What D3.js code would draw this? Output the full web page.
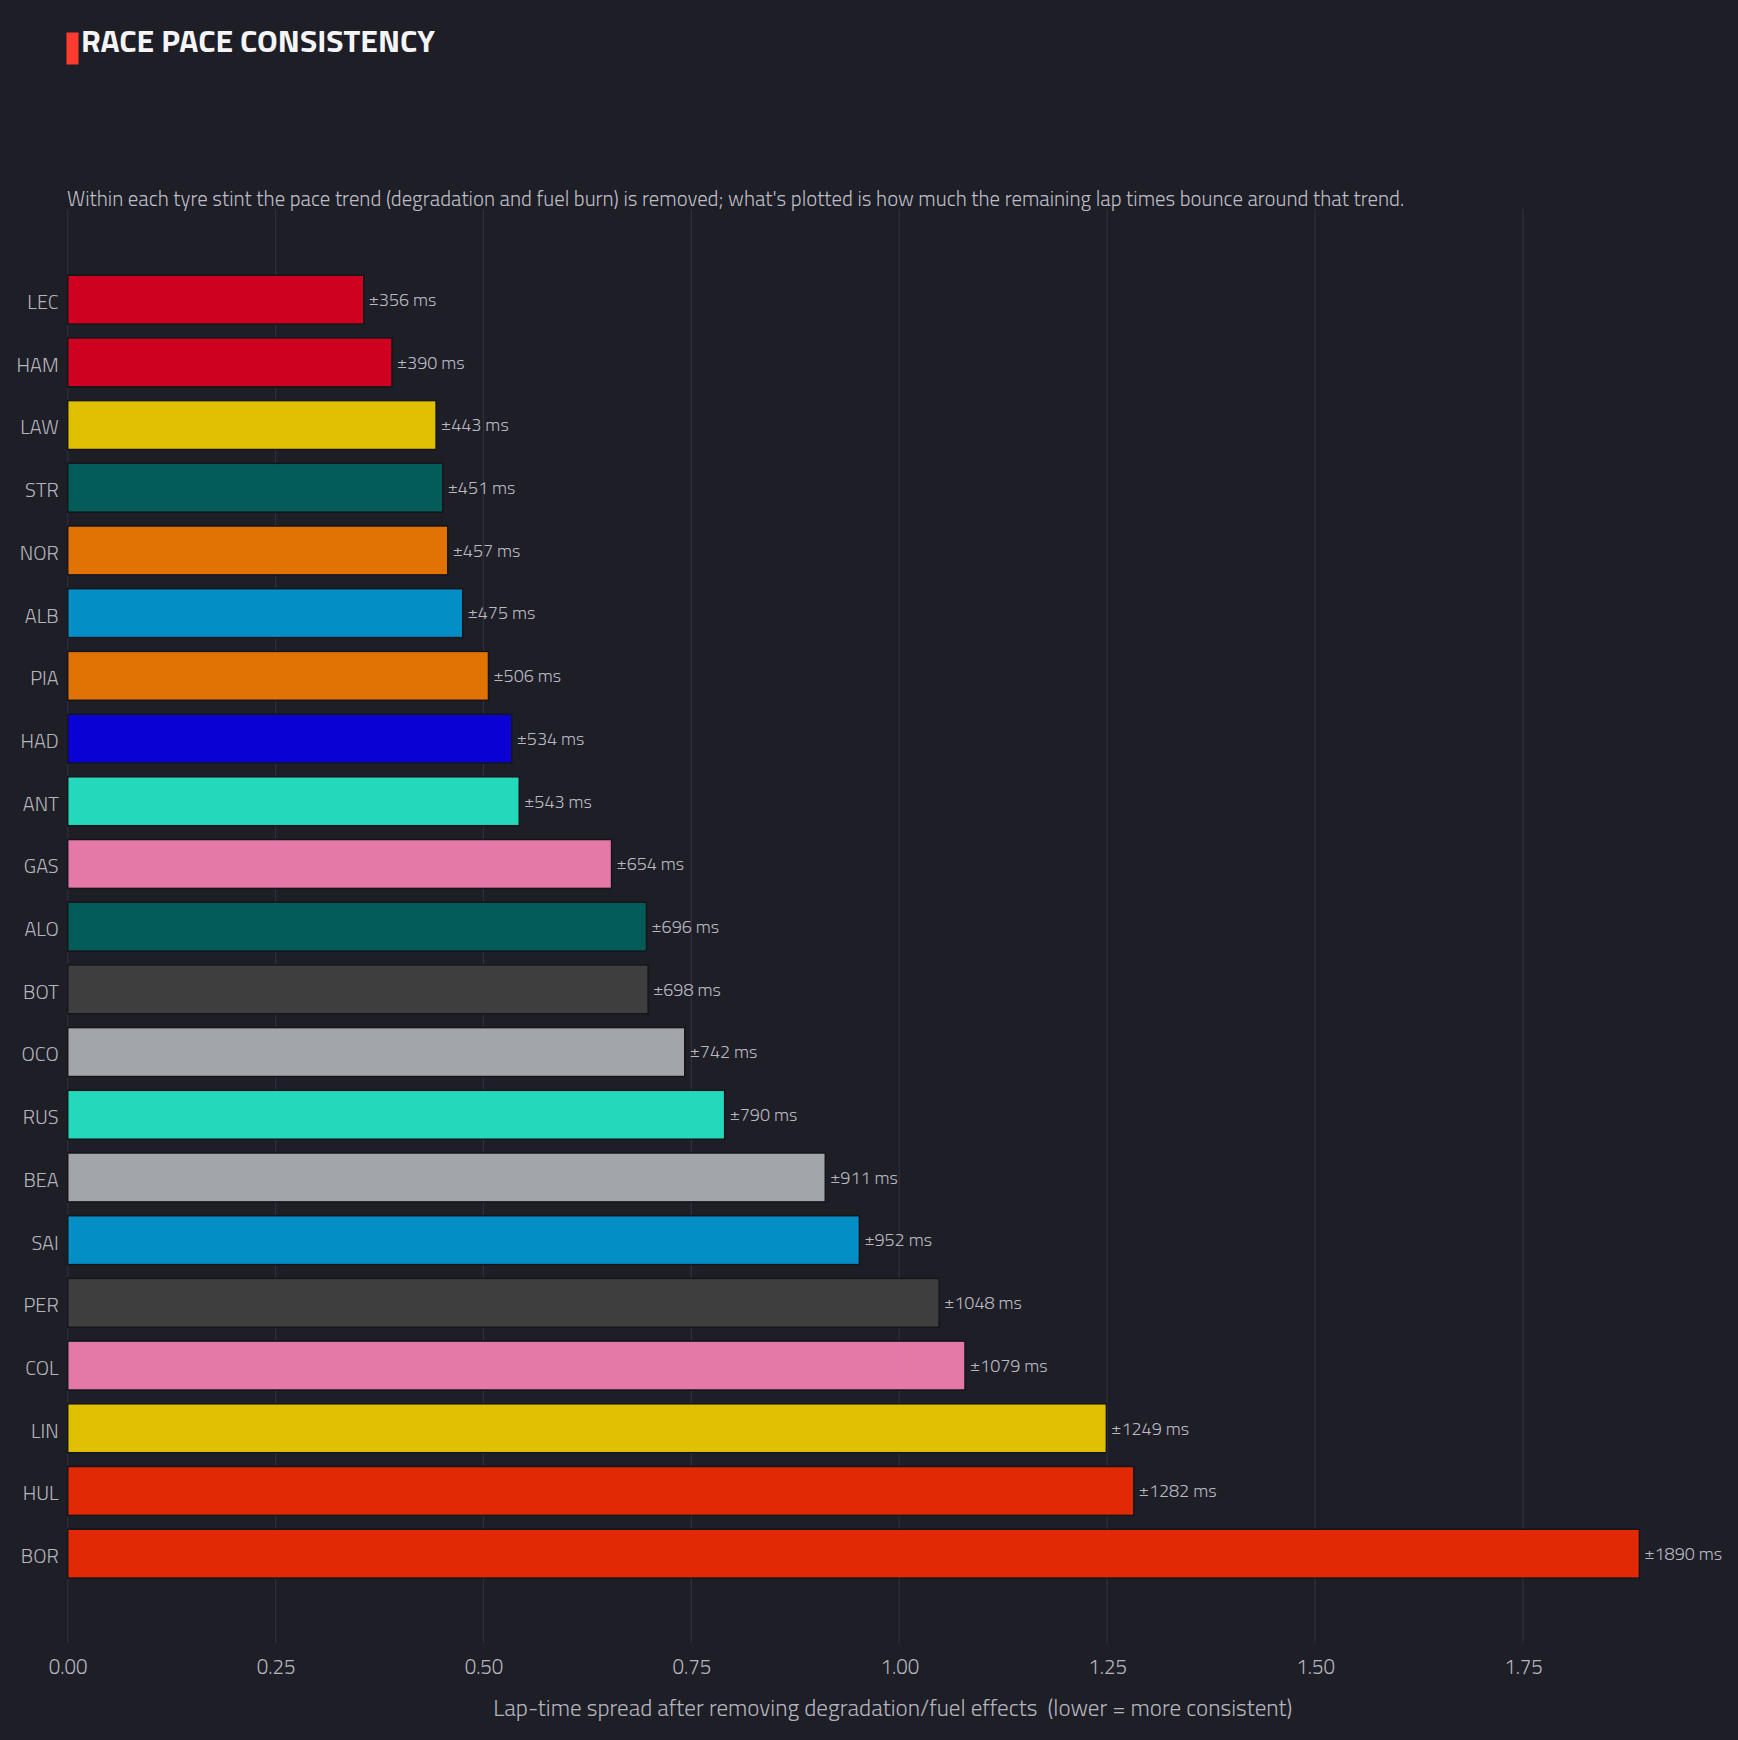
<!DOCTYPE html>
<html>
<head>
<meta charset="utf-8">
<script src="https://cdn.jsdelivr.net/npm/d3@7"></script>
<style>
  html, body { margin: 0; padding: 0; background: #1e1e27; }
  svg { display: block; }
  text { font-family: "Titillium Web", Roboto, "Noto Sans", sans-serif; }
</style>
</head>
<body>
<div id="chart"></div>
<script>
// ---- data ----
const drivers = ["LEC","HAM","LAW","STR","NOR","ALB","PIA","HAD","ANT","GAS","ALO","BOT","OCO","RUS","BEA","SAI","PER","COL","LIN","HUL","BOR"];
const spreadMs = [356,390,443,451,457,475,506,534,543,654,696,698,742,790,911,952,1048,1079,1249,1282,1890];
const barColors = ["#d60021","#d60021","#e8c702","#035f5c","#e87703","#0293cd","#e87703","#0900db","#24e0c2","#ec7cad","#035f5c","#404040","#a8abb0","#24e0c2","#a8abb0","#0293cd","#404040","#ec7cad","#e8c702","#e92b04","#e92b04"];
const xTicks = [0, 0.25, 0.5, 0.75, 1.0, 1.25, 1.5, 1.75];
const titleText = "RACE PACE CONSISTENCY";
const subtitleText = "Within each tyre stint the pace trend (degradation and fuel burn) is removed; what's plotted is how much the remaining lap times bounce around that trend.";
const xAxisTitle = "Lap-time spread after removing degradation/fuel effects  (lower = more consistent)";

// ---- layout ----
const W = 1738, H = 1740;
const plot = { left: 67.7, right: 1718, top: 209, bottom: 1643 };

const svg = d3.select("#chart").append("svg").attr("width", W).attr("height", H);
svg.append("rect").attr("width", W).attr("height", H).attr("fill", "#1e1e27");

const x = d3.scaleLinear().domain([0, 1.89 * 1.05]).range([plot.left, plot.right]);
const y = d3.scaleBand().domain(drivers).range([268.3, 268.3 + 62.7 * drivers.length]).paddingInner(0.22).paddingOuter(0.11);

// gridlines
svg.append("g").selectAll("line").data(xTicks).join("line")
  .attr("x1", d => x(d)).attr("x2", d => x(d))
  .attr("y1", plot.top).attr("y2", plot.bottom)
  .attr("stroke", "#2e2f3b").attr("stroke-width", 1.3);

// bars
const data = drivers.map((d, i) => ({ driver: d, v: spreadMs[i] / 1000, ms: spreadMs[i], color: barColors[i] }));
svg.append("g").selectAll("rect").data(data).join("rect")
  .attr("x", x(0)).attr("y", d => y(d.driver))
  .attr("width", d => x(d.v) - x(0)).attr("height", y.bandwidth())
  .attr("fill", d => d.color).attr("fill-opacity", 0.96)
  .attr("stroke", "#15151c").attr("stroke-width", 1.5);

// value labels
svg.append("g").selectAll("text").data(data).join("text")
  .attr("x", d => x(d.v) + 5).attr("y", d => y(d.driver) + y.bandwidth() / 2)
  .attr("dy", "0.35em")
  .attr("fill", "#b9b9c2").attr("font-size", 18).attr("font-weight", 300)
  .text(d => "±" + d.ms + " ms");

// y axis labels
const yAxis = d3.axisLeft(y).tickSize(0).tickPadding(9);
const gy = svg.append("g").attr("transform", `translate(${plot.left},3)`).call(yAxis);
gy.select(".domain").remove();
gy.selectAll("text").attr("fill", "#b4b4bd").attr("font-size", 20).attr("font-weight", 300);

// x axis labels
const xAxis = d3.axisBottom(x).tickValues(xTicks).tickFormat(d3.format(".2f")).tickSize(0).tickPadding(0);
const gx = svg.append("g").attr("transform", `translate(0,${1667})`).call(xAxis);
gx.select(".domain").remove();
gx.selectAll("text").attr("fill", "#b4b4bd").attr("font-size", 20.5).attr("font-weight", 300).attr("dy", "0.35em");

// x axis title
svg.append("text").attr("x", (plot.left + plot.right) / 2).attr("y", 1708).attr("dy", "0.35em")
  .attr("text-anchor", "middle").attr("fill", "#b4b4bd").attr("font-size", 23.1).attr("font-weight", 300)
  .style("white-space", "pre")
  .text(xAxisTitle);

// title
svg.append("rect").attr("x", 66.5).attr("y", 32.5).attr("width", 12).attr("height", 32).attr("fill", "#ff3b2f");
svg.append("text").attr("x", 81).attr("y", 52).attr("fill", "#f5f5f7")
  .attr("font-size", 31.8).attr("font-weight", 700)
  .text(titleText);

// subtitle
svg.append("text").attr("x", 67).attr("y", 205.5).attr("fill", "#bdbdc6")
  .attr("font-size", 20.8).attr("font-weight", 300)
  .text(subtitleText);
</script>
</body>
</html>
